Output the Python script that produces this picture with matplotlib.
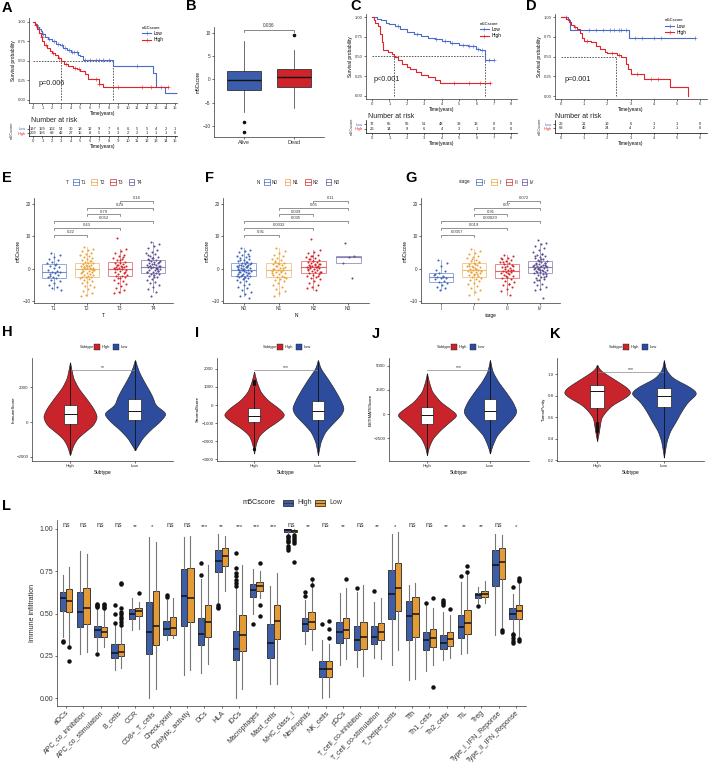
import numpy as np
import matplotlib
matplotlib.use('Agg')
import matplotlib.pyplot as plt
from matplotlib.patches import Rectangle
from matplotlib.lines import Line2D

plt.rcParams['font.family'] = ['Liberation Sans', 'DejaVu Sans']
plt.rcParams['axes.linewidth'] = 0.5
plt.rcParams['xtick.major.width'] = 0.5
plt.rcParams['ytick.major.width'] = 0.5
plt.rcParams['xtick.major.size'] = 1.5
plt.rcParams['ytick.major.size'] = 1.5
plt.rcParams['xtick.major.pad'] = 1
plt.rcParams['ytick.major.pad'] = 1

# ================= DATA =================
# --- A: KM (TCGA) ---
A_low_t = [0, 0.2, 0.4, 0.6, 0.8, 1.0, 1.3, 1.6, 2.0, 2.4, 2.8, 3.2, 3.6, 4.0, 4.8, 5.0, 5.3, 8.4, 12.7, 13.0, 13.9]
A_low_s = [1.0, 0.97, 0.94, 0.91, 0.88, 0.85, 0.81, 0.78, 0.75, 0.72, 0.70, 0.67, 0.64, 0.61, 0.58, 0.56, 0.51, 0.44, 0.35, 0.17, 0.09]
A_low_end = 15.3
A_low_cens = [0.5, 1.1, 1.7, 2.2, 2.6, 3.1, 3.4, 3.8, 4.1, 4.3, 4.6, 5.5, 6.0, 6.6, 7.0, 7.4, 8.0, 11.0, 13.5, 15.3]
A_high_t = [0, 0.2, 0.4, 0.6, 0.8, 1.0, 1.2, 1.5, 1.8, 2.0, 2.3, 2.6, 2.95, 3.3, 3.7, 4.2, 4.6, 5.0, 5.5, 5.8, 7.0, 7.4]
A_high_s = [1.0, 0.96, 0.91, 0.86, 0.80, 0.76, 0.71, 0.67, 0.63, 0.60, 0.57, 0.54, 0.50, 0.46, 0.43, 0.41, 0.39, 0.37, 0.33, 0.27, 0.21, 0.16]
A_high_end = 14.3
A_high_cens = [0.3, 0.9, 1.4, 2.1, 2.7, 3.5, 4.4, 4.9, 6.6, 7.0, 9.0, 11.5, 12.5, 14.3]
A_median = [2.95, 8.4]
A_risk_low = [197, 159, 102, 54, 30, 18, 12, 9, 7, 6, 6, 5, 5, 4, 2, 1]
A_risk_high = [209, 156, 69, 42, 27, 15, 8, 5, 3, 3, 2, 2, 1, 1, 1, 0]
A_ticks = list(range(0, 16))

# --- B: box plot Alive/Dead ---
B_groups = ['Alive', 'Dead']
B_q1 = [-2.35, -1.6]
B_med = [-0.2, 0.55]
B_q3 = [1.9, 2.3]
B_wlo = [-7.0, -6.1]
B_whi = [8.2, 6.3]
B_out = [[-9.0, -11.3], [9.4]]
B_p = '0.036'

# --- C: KM ---
C_low_t = [0, 0.3, 0.5, 0.8, 1.0, 1.3, 1.6, 2.0, 2.4, 2.8, 3.2, 3.6, 4.0, 4.5, 5.0, 5.5, 6.0, 6.2, 6.5]
C_low_s = [1.0, 0.98, 0.96, 0.93, 0.91, 0.88, 0.85, 0.81, 0.79, 0.76, 0.74, 0.72, 0.69, 0.67, 0.65, 0.63, 0.60, 0.58, 0.45]
C_low_end = 7.0
C_low_cens = [1.5, 2.6, 3.7, 4.2, 4.6, 5.2, 5.6, 5.8, 6.1, 6.3, 6.7, 7.0]
C_high_t = [0, 0.1, 0.2, 0.35, 0.45, 0.55, 0.65, 0.9, 1.15, 1.25, 1.5, 1.7, 2.0, 2.2, 2.5, 2.8, 3.2, 3.6, 3.9]
C_high_s = [1.0, 0.96, 0.92, 0.88, 0.79, 0.68, 0.58, 0.56, 0.53, 0.49, 0.45, 0.40, 0.37, 0.34, 0.30, 0.27, 0.24, 0.20, 0.16]
C_high_end = 6.8
C_high_cens = [4.7, 5.6, 6.2, 6.8]
C_median = [1.25, 6.5]
C_risk_low = [72, 65, 56, 51, 48, 33, 13, 0, 0]
C_risk_high = [26, 14, 9, 6, 4, 3, 1, 0, 0]
C_ticks = list(range(0, 9))

# --- D: KM ---
D_low_t = [0, 0.3, 0.4, 2.95]
D_low_s = [1.0, 0.96, 0.84, 0.73]
D_low_end = 5.8
D_low_cens = [0.2, 1.2, 1.5, 1.8, 2.1, 2.3, 2.5, 2.6, 2.8, 3.2, 3.5, 4.0, 4.3, 5.8]
D_high_t = [0, 0.2, 0.35, 0.45, 0.55, 0.7, 0.8, 0.9, 1.0, 1.3, 1.5, 1.7, 1.9, 2.0, 2.4, 2.6, 2.8, 2.9, 3.0, 3.6, 4.7, 5.5]
D_high_s = [1.0, 0.98, 0.94, 0.90, 0.87, 0.85, 0.80, 0.74, 0.70, 0.68, 0.64, 0.60, 0.56, 0.54, 0.52, 0.49, 0.40, 0.34, 0.28, 0.22, 0.11, 0.0]
D_high_end = 5.5
D_high_cens = [0.6, 1.1, 2.2, 2.5, 3.3, 3.9, 4.2]
D_median = [2.37]
D_risk_low = [26, 21, 19, 6, 1, 1, 0]
D_risk_high = [68, 40, 24, 4, 2, 1, 0]
D_ticks = list(range(0, 7))

# --- E: T stage ---
E_groups = ['T1', 'T2', 'T3', 'T4']
E_T1 = [4.9, 4.2, 3.5, 3.0, 2.6, 2.0, 1.8, 1.5, 1.0, 0.6, 0.2, -0.3, -0.8, -1.0, -1.1, -1.3, -1.7, -2.0, -2.4,
        -2.7, -3.0, -3.4, -3.9, -4.5, -5.0, -5.6, -6.0, -6.6, 1.2, -2.2]
E_T2 = [6.6, 6.2, 5.8, 5.4, 5.0, 4.6, 4.2, 3.9, 3.5, 3.2, 2.9, 2.6, 2.3, 2.0, 1.9, 1.7, 1.5, 1.3, 1.1, 0.9, 0.7,
        0.5, 0.3, 0.1, 0.0, -0.1, -0.2, -0.4, -0.6, -0.8, -1.0, -1.2, -1.4, -1.6, -1.8, -2.0, -2.2, -2.4, -2.5,
        -2.7, -2.9, -3.2, -3.5, -3.8, -4.1, -4.5, -4.9, -5.3, -5.8, -6.3, -6.8, -7.4, -8.0, -8.4, 0.2, 0.6, -0.3,
        1.0, -1.1, 2.5]
E_T3 = [9.4, 6.0, 5.4, 4.8, 4.2, 3.8, 3.4, 3.0, 2.6, 2.2, 1.9, 1.7, 1.5, 1.2, 1.0, 0.8, 0.6, 0.4, 0.2, 0.1, 0.0,
        -0.2, -0.4, -0.6, -0.9, -1.2, -1.5, -1.8, -2.1, -2.3, -2.6, -3.0, -3.4, -3.8, -4.3, -4.8, -5.3, -5.9,
        -6.5, -7.1, -7.6, 0.5, 1.3, -1.0, 2.8, -0.1, 3.6, -2.8]
E_T4 = [8.3, 7.6, 6.9, 6.3, 5.8, 5.3, 4.9, 4.5, 4.1, 3.7, 3.4, 3.1, 2.8, 2.5, 2.3, 2.1, 1.9, 1.7, 1.5, 1.3, 1.1,
        0.9, 0.7, 0.6, 0.5, 0.3, 0.1, -0.1, -0.3, -0.5, -0.7, -0.9, -1.1, -1.3, -1.5, -1.7, -2.0, -2.3, -2.7,
        -3.1, -3.5, -4.0, -4.5, -5.0, -5.6, -6.2, -7.1, -8.4, 0.8, 1.6, 2.6, -0.6, 3.3, -1.0, 0.2, 1.0, 2.0,
        -2.5, 4.3, -0.2]
E_pairs = [(1, 2), (1, 3), (1, 4), (2, 3), (2, 4), (3, 4)]
E_pvals = ['0.22', '0.43', '0.052', '0.79', '0.24', '0.16']

# --- F: N stage ---
F_groups = ['N0', 'N1', 'N2', 'N3']
F_N0 = [6.3, 5.9, 5.5, 5.1, 4.7, 4.3, 4.0, 3.6, 3.3, 3.0, 2.7, 2.4, 2.1, 1.9, 1.7, 1.5, 1.3, 1.1, 0.9, 0.7, 0.5,
        0.3, 0.1, -0.1, -0.3, -0.4, -0.5, -0.7, -0.9, -1.1, -1.3, -1.5, -1.7, -1.9, -2.1, -2.3, -2.5, -2.7, -2.9,
        -3.2, -3.5, -3.8, -4.2, -4.6, -5.0, -5.5, -6.0, -6.6, -7.2, -7.9, -8.5, -9.0, 0.0, 0.4, 0.8, 1.2, 1.6,
        -0.6, -1.0, -1.4, -1.8, -2.2, 2.0, 2.8, 3.8, -3.0, -0.2, 0.6]
F_N1 = [6.3, 5.6, 5.0, 4.4, 3.9, 3.4, 3.0, 2.6, 2.2, 1.9, 1.7, 1.4, 1.1, 0.8, 0.5, 0.2, 0.0, -0.3, -0.5, -0.7,
        -0.9, -1.1, -1.4, -1.7, -2.0, -2.3, -2.6, -2.8, -3.1, -3.5, -3.9, -4.4, -5.0, -5.6, -6.2, -6.9, -7.6, -8.5,
        0.3, 1.0, -1.2, -0.6, 2.4, -2.4, 1.5, -0.2]
F_N2 = [9.1, 5.8, 5.3, 4.8, 4.4, 4.0, 3.6, 3.3, 3.0, 2.7, 2.4, 2.2, 2.0, 1.8, 1.6, 1.4, 1.2, 1.0, 0.8, 0.6, 0.5,
        0.3, 0.1, -0.1, -0.3, -0.5, -0.7, -0.9, -1.1, -1.3, -1.5, -1.8, -2.1, -2.5, -2.9, -3.3, -3.8, -4.3, -4.9,
        -5.5, -6.1, -6.6, 0.9, 1.5, 2.5, -0.2, 0.4, 3.8, -1.0, 1.1, 2.9, -2.2]
F_N3 = [7.9, 4.0, 3.7, 1.9, -3.0]
F_pvals = ['0.91', '0.0032', '0.035', '0.039', '0.05', '0.11']

# --- G: stage ---
G_groups = ['I', 'II', 'III', 'IV']
G_I = [2.7, 1.8, 0.9, -0.3, -0.7, -1.2, -1.8, -2.2, -2.6, -2.8, -3.0, -3.3, -3.7, -4.0, -4.4, -5.0, -5.8, -6.0,
       -6.6, -1.5, -2.5]
G_II = [6.0, 5.5, 5.0, 4.5, 4.0, 3.6, 3.2, 2.8, 2.4, 2.0, 1.7, 1.4, 1.15, 0.9, 0.6, 0.3, 0.0, -0.3, -0.5, -0.7,
        -0.9, -1.1, -1.3, -1.6, -1.9, -2.2, -2.5, -2.8, -3.1, -3.5, -3.9, -4.3, -4.8, -5.3, -5.9, -6.5, -7.2, -8.1,
        -9.5, 0.4, 1.0, -0.2, -1.0, 2.2, -2.0, 0.8, -1.5, 3.0, -0.6, 1.6]
G_III = [4.2, 3.8, 3.4, 3.0, 2.6, 2.3, 2.0, 1.7, 1.45, 1.2, 0.9, 0.6, 0.3, 0.0, -0.3, -0.5, -0.7, -0.9, -1.1, -1.4,
         -1.7, -2.0, -2.3, -2.6, -3.0, -3.3, -3.7, -4.1, -4.6, -5.1, -5.7, -6.3, -7.0, -8.1, 0.5, 1.0, -1.2, 2.1,
         -0.4, -2.1, 3.2, -4.8]
G_IV = [9.0, 8.0, 7.6, 6.9, 6.3, 5.7, 5.2, 4.7, 4.3, 3.9, 3.5, 3.2, 2.9, 2.6, 2.3, 2.1, 1.9, 1.7, 1.5, 1.3, 1.1,
        0.9, 0.7, 0.5, 0.3, 0.1, -0.1, -0.3, -0.5, -0.7, -0.9, -1.1, -1.3, -1.5, -1.8, -2.1, -2.4, -2.8, -3.2,
        -3.6, -4.1, -4.6, -5.1, -5.7, -6.2, -6.6, -8.9, 0.2, 0.6, 1.0, 1.4, 1.8, 2.4, -0.2, -0.6, -1.0, -1.6, 3.0,
        3.8, -2.6, 0.0, 0.8, 4.5, -3.4, 1.2, -0.4]
G_pvals = ['0.0057', '0.019', '0.00029', '0.91', '0.07', '0.072']

# --- H-K: violin profiles (value, half-width) and box stats [High, Low] ---
subtypes = ['High', 'Low']
H_prof_y = [[-1885, -1314, -933, -552, -171, 305, 783, 1354, 1926, 2497, 3410],
            [-1600, -1314, -933, -457, 19, 495, 971, 1354, 1731, 2303, 2874, 3543]]
H_prof_w = [[0, 0.05, 0.11, 0.23, 0.36, 0.42, 0.36, 0.25, 0.13, 0.05, 0],
            [0, 0.05, 0.11, 0.23, 0.38, 0.49, 0.31, 0.28, 0.23, 0.14, 0.06, 0]]
H_box = [[-1850, -114, 457, 971, 3350], [-1600, 114, 628, 1314, 3500]]
H_out = [[], []]
H_sig = '**'

I_prof_y = [[-2670, -2116, -1657, -1287, -922, -552, -182, 276, 735, 1287, 1840],
            [-2762, -2025, -1473, -1011, -552, -182, 370, 920, 1473, 2025, 2486]]
I_prof_w = [[0, 0.03, 0.08, 0.20, 0.36, 0.49, 0.39, 0.21, 0.10, 0.04, 0],
            [0, 0.04, 0.11, 0.23, 0.36, 0.41, 0.34, 0.25, 0.15, 0.04, 0]]
I_box = [[-2300, -956, -590, -182, 1000], [-2700, -829, -331, 221, 2400]]
I_out = [[1150, 1250, 1350, -2450], []]
I_sig = '***'

J_prof_y = [[-4236, -3378, -2510, -1653, -795, -103, 413, 1271, 2304, 3337, 4204],
            [-4060, -3202, -2169, -1312, -444, 238, 1271, 2304, 3337, 4370, 5578]]
J_prof_w = [[0, 0.03, 0.09, 0.21, 0.36, 0.49, 0.39, 0.21, 0.08, 0.03, 0],
            [0, 0.04, 0.11, 0.23, 0.36, 0.43, 0.36, 0.25, 0.13, 0.04, 0]]
J_box = [[-4200, -1033, -103, 723, 4100], [-4000, -620, 310, 1519, 5500]]
J_out = [[], []]
J_sig = '***'

K_prof_y = [[0.38, 0.457, 0.518, 0.595, 0.656, 0.717, 0.779, 0.825, 0.871, 0.932, 0.994, 1.04, 1.086],
            [0.227, 0.288, 0.38, 0.472, 0.564, 0.656, 0.748, 0.825, 0.886, 0.963, 1.04, 1.13]]
K_prof_w = [[0, 0.025, 0.04, 0.06, 0.13, 0.23, 0.41, 0.51, 0.46, 0.31, 0.15, 0.04, 0],
            [0, 0.015, 0.04, 0.09, 0.18, 0.26, 0.36, 0.51, 0.38, 0.13, 0.03, 0]]
K_box = [[0.40, 0.686, 0.84, 0.90, 1.08], [0.23, 0.692, 0.80, 0.871, 1.12]]
K_out = [[0.47, 0.49, 0.51, 0.52, 0.53, 0.55], []]
K_sig = '***'

# --- L: immune infiltration ---
L_cats = ['aDCs', 'APC_co_inhibition', 'APC_co_stimulation', 'B_cells', 'CCR', 'CD8+_T_cells', 'Check-point',
          'Cytolytic_activity', 'DCs', 'HLA', 'iDCs', 'Macrophages', 'Mast_cells', 'MHC_class_I', 'Neutrophils',
          'NK_cells', 'pDCs', 'T_cell_co-inhibition', 'T_cell_co-stimulation', 'T_helper_cells', 'Tfh',
          'Th1_cells', 'Th2_cells', 'TIL', 'Treg', 'Type_I_IFN_Reponse', 'Type_II_IFN_Reponse']
L_sig = ['ns', 'ns', 'ns', 'ns', '**', '*', 'ns', 'ns', '***', '**', '***', '***', '***', 'ns', '**', 'ns', '**',
         'ns', '**', '*', 'ns', 'ns', '**', '**', '**', 'ns', '*']
L_q1_high = [0.516, 0.42, 0.362, 0.237, 0.47, 0.263, 0.372, 0.425, 0.316, 0.745, 0.223, 0.599, 0.237, 0.984, 0.395,
             0.125, 0.328, 0.283, 0.322, 0.47, 0.346, 0.285, 0.289, 0.358, 0.589, 0.664, 0.466]
L_med_high = [0.593, 0.506, 0.40, 0.267, 0.50, 0.393, 0.41, 0.603, 0.377, 0.812, 0.289, 0.638, 0.326, 0.994, 0.435,
              0.17, 0.391, 0.342, 0.364, 0.617, 0.486, 0.342, 0.328, 0.419, 0.609, 0.787, 0.50]
L_q3_high = [0.628, 0.63, 0.427, 0.318, 0.526, 0.571, 0.458, 0.761, 0.474, 0.873, 0.395, 0.672, 0.435, 0.998, 0.476,
             0.219, 0.45, 0.425, 0.427, 0.757, 0.575, 0.391, 0.375, 0.494, 0.62, 0.875, 0.53]
L_lo_high = [0.362, 0.263, 0.277, 0.164, 0.40, 0.0, 0.345, 0.134, 0.148, 0.56, 0.0, 0.50, 0.085, 0.968, 0.322, 0.0,
             0.198, 0.184, 0.237, 0.194, 0.109, 0.158, 0.223, 0.263, 0.56, 0.372, 0.391]
L_hi_high = [0.727, 0.87, 0.53, 0.43, 0.59, 0.95, 0.58, 0.955, 0.707, 0.968, 0.652, 0.763, 0.664, 1.0, 0.58, 0.342,
             0.62, 0.63, 0.57, 0.97, 0.668, 0.55, 0.51, 0.684, 0.658, 0.97, 0.613]
L_out_high = [[0.34, 0.33], [], [0.54, 0.545, 0.55, 0.555, 0.263], [0.553, 0.496, 0.445], [], [], [0.60, 0.61], [],
              [0.796, 0.727], [0.53, 0.54, 0.55], [0.856, 0.77, 0.74, 0.72, 0.70, 0.68, 0.66], [0.44], [],
              [0.875, 0.89, 0.90, 0.92, 0.93, 0.94, 0.95, 0.96], [0.605, 0.63], [0.437], [], [0.652], [0.636], [],
              [], [0.565], [0.55, 0.56, 0.57, 0.58], [0.721], [0.545], [], [0.658, 0.38, 0.37, 0.355, 0.34, 0.326]]
L_q1_low = [0.506, 0.435, 0.36, 0.247, 0.484, 0.316, 0.375, 0.45, 0.362, 0.783, 0.277, 0.632, 0.352, 0.98, 0.411,
            0.125, 0.356, 0.292, 0.346, 0.516, 0.362, 0.304, 0.306, 0.381, 0.599, 0.704, 0.47]
L_med_low = [0.575, 0.53, 0.39, 0.273, 0.512, 0.425, 0.417, 0.589, 0.447, 0.842, 0.372, 0.662, 0.455, 0.99, 0.45,
             0.174, 0.405, 0.362, 0.391, 0.652, 0.50, 0.356, 0.348, 0.441, 0.617, 0.806, 0.514]
L_q3_low = [0.644, 0.65, 0.421, 0.322, 0.535, 0.632, 0.48, 0.767, 0.553, 0.889, 0.494, 0.688, 0.553, 0.994, 0.506,
            0.219, 0.476, 0.45, 0.445, 0.80, 0.595, 0.411, 0.391, 0.522, 0.632, 0.885, 0.55]
L_lo_low = [0.31, 0.27, 0.30, 0.18, 0.41, 0.055, 0.356, 0.164, 0.204, 0.632, 0.055, 0.59, 0.085, 0.97, 0.283, 0.006,
            0.233, 0.13, 0.233, 0.283, 0.115, 0.194, 0.237, 0.267, 0.56, 0.40, 0.362]
L_hi_low = [0.777, 0.85, 0.53, 0.42, 0.57, 0.92, 0.59, 0.96, 0.787, 0.96, 0.787, 0.75, 0.741, 1.0, 0.70, 0.322,
            0.648, 0.668, 0.59, 0.98, 0.678, 0.534, 0.49, 0.747, 0.692, 0.964, 0.688]
L_out_low = [[0.30, 0.22], [], [0.53, 0.54, 0.55, 0.555], [0.43, 0.45, 0.47, 0.48, 0.50, 0.51, 0.53, 0.68, 0.675],
             [0.62], [], [], [], [], [], [], [0.80, 0.55, 0.486], [], [0.915, 0.93, 0.94, 0.95, 0.965, 0.806],
             [0.707, 0.668], [0.455, 0.41, 0.356], [0.707], [], [], [], [], [0.593, 0.065], [0.524], [0.783, 0.743],
             [], [0.39, 0.40], [0.69, 0.70, 0.71, 0.35, 0.34]]

# ================= STYLE =================
KM_BLUE, KM_RED = '#4A6BC8', '#E3222A'
B_BLUE, B_RED = '#3C5DAC', '#D0222A'
EG_COLS = ['#3F64B8', '#E9A23B', '#D4252B', '#5E4E8F']
V_RED, V_BLUE = '#C9232B', '#2D4C9E'
L_BLUE, L_ORANGE = '#3F5EA8', '#E59B35'
AX_COL = '#333333'

W, H = 708, 771
fig = plt.figure(figsize=(W / 100, H / 100), dpi=100)


def axpx(l, t, r, b):
    return fig.add_axes([l / W, 1 - b / H, (r - l) / W, (b - t) / H])


def ftext(x, y, s, **kw):
    kw.setdefault('va', 'center')
    return fig.text(x / W, 1 - y / H, s, **kw)


def frect(x, y, w, h, **kw):
    r = Rectangle((x / W, 1 - (y + h / 2) / H), w / W, h / H, transform=fig.transFigure, **kw)
    fig.add_artist(r)


def fline(x0, x1, y, **kw):
    fig.add_artist(Line2D([x0 / W, x1 / W], [1 - y / H, 1 - y / H], transform=fig.transFigure, **kw))


def style(ax, fs=3.2):
    for s in ['top', 'right']:
        ax.spines[s].set_visible(False)
    for s in ['left', 'bottom']:
        ax.spines[s].set_color(AX_COL)
    ax.tick_params(labelsize=fs, colors=AX_COL, length=1.5, width=0.5)
    ax.patch.set_alpha(0)


for lab, x, y in [('A', 2, 8), ('B', 186, 6), ('C', 350, 6), ('D', 526, 6), ('E', 2, 178), ('F', 205, 178),
                  ('G', 405, 178), ('H', 2, 332), ('I', 195, 333), ('J', 372, 334), ('K', 550, 334),
                  ('L', 2, 506)]:
    ftext(x, y, lab, fontsize=10.5, fontweight='bold', ha='left')


# ================= KM panels =================
def km_panel(box, tbox, xlim, ylim, ticks, curves, medians, ptxt, ppos, leg_anchor, risk_rows, risk_y,
             nar_xy, tbl_lab_x, ylab_x):
    ax = axpx(*box)
    style(ax, 3.0)
    for t, s, tend, cens, col in curves:
        ax.step(list(t) + [tend], list(s) + [s[-1]], where='post', color=col, lw=0.8, zorder=3)
        cy = [s[np.searchsorted(t, c, side='right') - 1] for c in cens]
        ax.plot(cens, cy, '+', color=col, ms=2.2, mew=0.4, zorder=3)
    ax.plot([0, max(medians)], [0.5, 0.5], color='k', ls=(0, (2.5, 2)), lw=0.45)
    for m in medians:
        ax.plot([m, m], [0, 0.5], color='k', ls=(0, (2.5, 2)), lw=0.45)
    ax.set_xlim(*xlim)
    ax.set_ylim(*ylim)
    ax.set_xticks(ticks)
    ax.set_yticks([0, 0.25, 0.5, 0.75, 1.0])
    ax.set_yticklabels(['0.00', '0.25', '0.50', '0.75', '1.00'])
    ax.set_xlabel('Time(years)', fontsize=3.4, labelpad=0.5)
    ax.set_ylabel('Survival probability', fontsize=3.4, labelpad=1)
    ax.text(ppos[0], ppos[1], ptxt, fontsize=5.2, color='#222')
    hs = [Line2D([0], [0], color=KM_BLUE, lw=0.8, marker='+', ms=2.2, mew=0.4),
          Line2D([0], [0], color=KM_RED, lw=0.8, marker='+', ms=2.2, mew=0.4)]
    ax.legend(hs, ['Low', 'High'], title='m5Cscore', loc='upper left', bbox_to_anchor=leg_anchor, frameon=False,
              fontsize=3.4, title_fontsize=3.0, handlelength=2.0, handletextpad=0.5, borderaxespad=0,
              labelspacing=0.25, alignment='left')
    # risk table
    tx = axpx(*tbox)
    for s_ in ['top', 'right']:
        tx.spines[s_].set_visible(False)
    tx.tick_params(labelsize=3.0, colors=AX_COL, length=1.5, width=0.5)
    tx.patch.set_alpha(0)
    tx.set_xlim(*xlim)
    tx.set_ylim(0, 1)
    for row, yy, col in zip(risk_rows, risk_y, [KM_BLUE, KM_RED]):
        for x, n in zip(ticks, row):
            tx.text(x, yy, str(n), ha='center', va='center', fontsize=2.9, color='#222')
    tx.set_xticks(ticks)
    tx.set_yticks(risk_y)
    tx.set_yticklabels(['Low', 'High'])
    tx.tick_params(axis='y', labelsize=2.8)
    for tl, col in zip(tx.get_yticklabels(), [KM_BLUE, KM_RED]):
        tl.set_color(col)
    tx.set_xlabel('Time(years)', fontsize=3.4, labelpad=0.5)
    ftext(nar_xy[0], nar_xy[1], 'Number at risk', fontsize=5.0, ha='left', color='#222')
    ftext(ylab_x, (tbox[1] + tbox[3]) / 2, 'm5Cscore', fontsize=2.8, rotation=90, ha='center', color='#333')
    return ax


km_panel((29, 18, 177, 103), (29, 125, 177, 136), (-0.42, 15.2), (-0.04, 1.05), A_ticks,
         [(A_low_t, A_low_s, A_low_end, A_low_cens, KM_BLUE), (A_high_t, A_high_s, A_high_end, A_high_cens, KM_RED)],
         A_median, 'p=0.006', (0.6, 0.19), (0.75, 0.93), [A_risk_low, A_risk_high], [0.68, 0.25],
         (31, 121), 20, 12)
km_panel((366, 14, 517, 99), (366, 120, 517, 133), (-0.345, 8.33), (-0.038, 1.038), C_ticks,
         [(C_low_t, C_low_s, C_low_end, C_low_cens, KM_BLUE), (C_high_t, C_high_s, C_high_end, C_high_cens, KM_RED)],
         C_median, 'p<0.001', (0.1, 0.19), (0.74, 0.93), [C_risk_low, C_risk_high], [0.69, 0.31],
         (368, 117), 357, 352)
km_panel((555, 14, 707, 99), (555, 120, 707, 133), (-0.26, 6.3), (-0.038, 1.04), D_ticks,
         [(D_low_t, D_low_s, D_low_end, D_low_cens, KM_BLUE), (D_high_t, D_high_s, D_high_end, D_high_cens, KM_RED)],
         D_median, 'p=0.001', (0.15, 0.19), (0.71, 0.97), [D_risk_low, D_risk_high], [0.69, 0.36],
         (555, 117), 545, 540)

# ================= B =================
axB = axpx(214, 27, 324, 137)
style(axB, 3.4)
statsB = [dict(q1=B_q1[i], med=B_med[i], q3=B_q3[i], whislo=B_wlo[i], whishi=B_whi[i], fliers=B_out[i],
               label=B_groups[i]) for i in range(2)]
bp = axB.bxp(statsB, positions=[1, 2], widths=0.68, patch_artist=True, showfliers=True,
             boxprops=dict(lw=0.6, edgecolor='#333'), medianprops=dict(color='#111', lw=1.0),
             whiskerprops=dict(color='#333', lw=0.5), capprops=dict(lw=0),
             flierprops=dict(marker='o', ms=1.6, mfc='#111', mec='#111'))
for p, c in zip(bp['boxes'], [B_BLUE, B_RED]):
    p.set_facecolor(c)
axB.set_xlim(0.4, 2.6)
axB.set_ylim(-12.3, 11.2)
axB.set_yticks([-10, -5, 0, 5, 10])
axB.set_ylabel('m5Cscore', fontsize=3.4, labelpad=1)
axB.tick_params(axis='x', labelsize=4.0)
axB.plot([1, 1, 2, 2], [10.1, 10.6, 10.6, 10.1], color='#555', lw=0.5)
axB.text(1.5, 10.9, B_p, ha='center', va='bottom', fontsize=3.4, color='#333')


# ================= E F G =================
def jitter_panel(box, groups, data, pvals, xlabel, ylab_x):
    ax = axpx(*box)
    style(ax, 3.4)
    pos = np.arange(1, len(groups) + 1)
    bp = ax.boxplot(data, positions=pos, widths=0.72, showfliers=False, patch_artist=True, whis=1.5)
    for i, c in enumerate(EG_COLS):
        bp['boxes'][i].set(facecolor='none', edgecolor=c, lw=0.7, alpha=0.55)
        bp['medians'][i].set(color=c, lw=0.8, alpha=0.7)
        for w in bp['whiskers'][2 * i:2 * i + 2]:
            w.set(color=c, lw=0.6, alpha=0.6)
        for cp in bp['caps'][2 * i:2 * i + 2]:
            cp.set(lw=0)
        n = len(data[i])
        off = ((np.arange(n) * 0.618034 + 0.31) % 1.0 - 0.5) * 0.42
        ax.scatter(pos[i] + off, data[i], s=2.2, color=c, lw=0, zorder=3)
    levels = [10.5, 12.6, 14.7, 16.8, 18.9, 21.0]
    for (a, b), lv, pv in zip(E_pairs, levels, pvals):
        ax.plot([a, a, b, b], [lv - 0.6, lv, lv, lv - 0.6], color='#555', lw=0.45, clip_on=False)
        ax.text((a + b) / 2, lv + 0.25, pv, ha='center', va='bottom', fontsize=3.0, color='#333', clip_on=False)
    ax.set_xlim(0.4, 4.6)
    ax.set_ylim(-10.6, 21.9)
    ax.set_xticks(pos)
    ax.set_xticklabels(groups)
    ax.set_yticks([-10, 0, 10, 20])
    ax.set_xlabel(xlabel, fontsize=3.4, labelpad=1)
    ax.set_ylabel('m5Cscore', fontsize=3.4, labelpad=1)
    return ax


jitter_panel((34, 198, 173, 303), E_groups, [E_T1, E_T2, E_T3, E_T4], E_pvals, 'T', 18)
jitter_panel((223, 198, 369, 303), F_groups, [F_N0, F_N1, F_N2, F_N3], F_pvals, 'N', 208)
jitter_panel((421, 198, 560, 303), G_groups, [G_I, G_II, G_III, G_IV], G_pvals, 'stage', 405)


def box_glyph(x, y, w, h, edge, face='white', lw=0.6, alpha=1.0):
    frect(x, y, w, h, facecolor=face, edgecolor=edge, lw=lw, alpha=alpha)
    fline(x, x + w, y, color=edge, lw=lw, alpha=alpha)


def eg_legend(title, tx, labels, gx, step, y=182):
    ftext(tx, y, title, fontsize=3.3, ha='left', color='#222')
    for i, (lb, c) in enumerate(zip(labels, EG_COLS)):
        x = gx + i * step
        box_glyph(x, y, 5.5, 5.5, c, alpha=0.8)
        ftext(x + 8, y, lb, fontsize=3.3, ha='left', color='#222')


eg_legend('T', 66, E_groups, 73, 18.5)
eg_legend('N', 257, F_groups, 264, 20.5)
eg_legend('stage', 459, G_groups, 476, 15.2)


# ================= H-K violins =================
def smooth_profile(ys, ws):
    yy = np.linspace(min(ys), max(ys), 300)
    ww = np.interp(yy, ys, ws)
    k = np.exp(-0.5 * (np.arange(-20, 21) / 7.0) ** 2)
    k /= k.sum()
    ww = np.convolve(np.pad(ww, 20, mode='edge'), k, mode='same')[20:-20]
    ww[0] = 0
    ww[-1] = 0
    return yy, ww


def violin_panel(box, xlim, ylim, yticks, ylabel, prof_y, prof_w, boxes, outs, sig, sig_y):
    ax = axpx(*box)
    style(ax, 3.2)
    for i, col in enumerate([V_RED, V_BLUE]):
        yy, ww = smooth_profile(prof_y[i], prof_w[i])
        ax.fill_betweenx(yy, i + 1 - ww, i + 1 + ww, facecolor=col, edgecolor='#222', lw=0.45, zorder=2)
    stats = [dict(whislo=b[0], q1=b[1], med=b[2], q3=b[3], whishi=b[4], fliers=o) for b, o in zip(boxes, outs)]
    ax.bxp(stats, positions=[1, 2], widths=0.2, patch_artist=True, showfliers=True,
           boxprops=dict(facecolor='white', edgecolor='#222', lw=0.5), medianprops=dict(color='#111', lw=0.7),
           whiskerprops=dict(color='#111', lw=0.6), capprops=dict(lw=0),
           flierprops=dict(marker='o', ms=1.4, mfc='#111', mec='#111'), zorder=3)
    ax.plot([1, 2], [sig_y, sig_y], color='#888', lw=0.5)
    ax.text(1.5, sig_y, sig, ha='center', va='bottom', fontsize=3.6, color='#333')
    ax.set_xlim(*xlim)
    ax.set_ylim(*ylim)
    ax.set_yticks(yticks)
    ax.set_xticks([1, 2])
    ax.set_xticklabels(subtypes)
    ax.set_xlabel('Subtype', fontsize=3.4, labelpad=1)
    ax.set_ylabel(ylabel, fontsize=3.2, labelpad=1)
    return ax


violin_panel((32, 358, 173, 461), (0.415, 2.585), (-2230, 3660), [-2000, 0, 2000], 'ImmuneScore',
             H_prof_y, H_prof_w, H_box, H_out, H_sig, 2971)
violin_panel((217, 358, 355, 461), (0.42, 2.58), (-3090, 2600), [-3000, -2000, -1000, 0, 1000, 2000],
             'StromalScore', I_prof_y, I_prof_w, I_box, I_out, I_sig, 1934)
violin_panel((389, 358, 529, 461), (0.397, 2.62), (-4855, 5785), [-2500, 0, 2500, 5000], 'ESTIMATEScore',
             J_prof_y, J_prof_w, J_box, J_out, J_sig, 4545)
violin_panel((557, 358, 704, 461), (0.4, 2.6), (0.195, 1.15), [0.2, 0.4, 0.6, 0.8, 1.0], 'TumorPurity',
             K_prof_y, K_prof_w, K_box, K_out, K_sig, 1.024)


def v_legend(x):
    ftext(x, 347, 'Subtype', fontsize=2.9, ha='left', color='#222')
    frect(x + 14, 347, 6, 6, facecolor=V_RED, edgecolor='#222', lw=0.3)
    ftext(x + 21.5, 347, 'High', fontsize=2.9, ha='left', color='#222')
    frect(x + 33, 347, 6, 6, facecolor=V_BLUE, edgecolor='#222', lw=0.3)
    ftext(x + 40.5, 347, 'Low', fontsize=2.9, ha='left', color='#222')


for lx in [80, 263, 437, 609]:
    v_legend(lx)

# ================= L =================
axL = axpx(57, 520, 526, 706)
style(axL, 5.0)
n = len(L_cats)
pos = np.arange(1, n + 1)
st_h = [dict(whislo=L_lo_high[i], q1=L_q1_high[i], med=L_med_high[i], q3=L_q3_high[i], whishi=L_hi_high[i],
             fliers=L_out_high[i]) for i in range(n)]
st_l = [dict(whislo=L_lo_low[i], q1=L_q1_low[i], med=L_med_low[i], q3=L_q3_low[i], whishi=L_hi_low[i],
             fliers=L_out_low[i]) for i in range(n)]
for st, dx, col in [(st_h, -0.19, L_BLUE), (st_l, 0.19, L_ORANGE)]:
    axL.bxp(st, positions=pos + dx, widths=0.37, patch_artist=True, showfliers=True,
            boxprops=dict(facecolor=col, edgecolor='#3a3a3a', lw=0.7),
            medianprops=dict(color='#111', lw=1.1), whiskerprops=dict(color='#777', lw=0.8), capprops=dict(lw=0),
            flierprops=dict(marker='o', ms=2.2, mfc='#111', mec='#111'))
for i, s in enumerate(L_sig):
    axL.text(pos[i], 1.0, s, ha='center', va='bottom', fontsize=5.0 if s == 'ns' else 4.5, color='#333')
axL.set_xlim(0.48, 27.58)
axL.set_ylim(-0.047, 1.053)
axL.set_xticks(pos)
axL.set_xticklabels(L_cats, rotation=45, ha='right', rotation_mode='anchor', fontsize=5.0, color='#333')
axL.set_yticks([0, 0.25, 0.5, 0.75, 1.0])
axL.set_yticklabels(['0.00', '0.25', '0.50', '0.75', '1.00'])
axL.set_ylabel('Immune infiltration', fontsize=5.0, labelpad=3, color='#222')

ftext(243, 503, 'm5Cscore', fontsize=5.2, ha='left', color='#222')
box_glyph(283, 503, 10, 6.5, '#333', face=L_BLUE, lw=0.6)
ftext(297, 503, 'High', fontsize=5.0, ha='left', color='#333')
box_glyph(315, 503, 10, 6.5, '#333', face=L_ORANGE, lw=0.6)
ftext(329, 503, 'Low', fontsize=5.0, ha='left', color='#333')

fig.savefig('out.png', dpi=100)
